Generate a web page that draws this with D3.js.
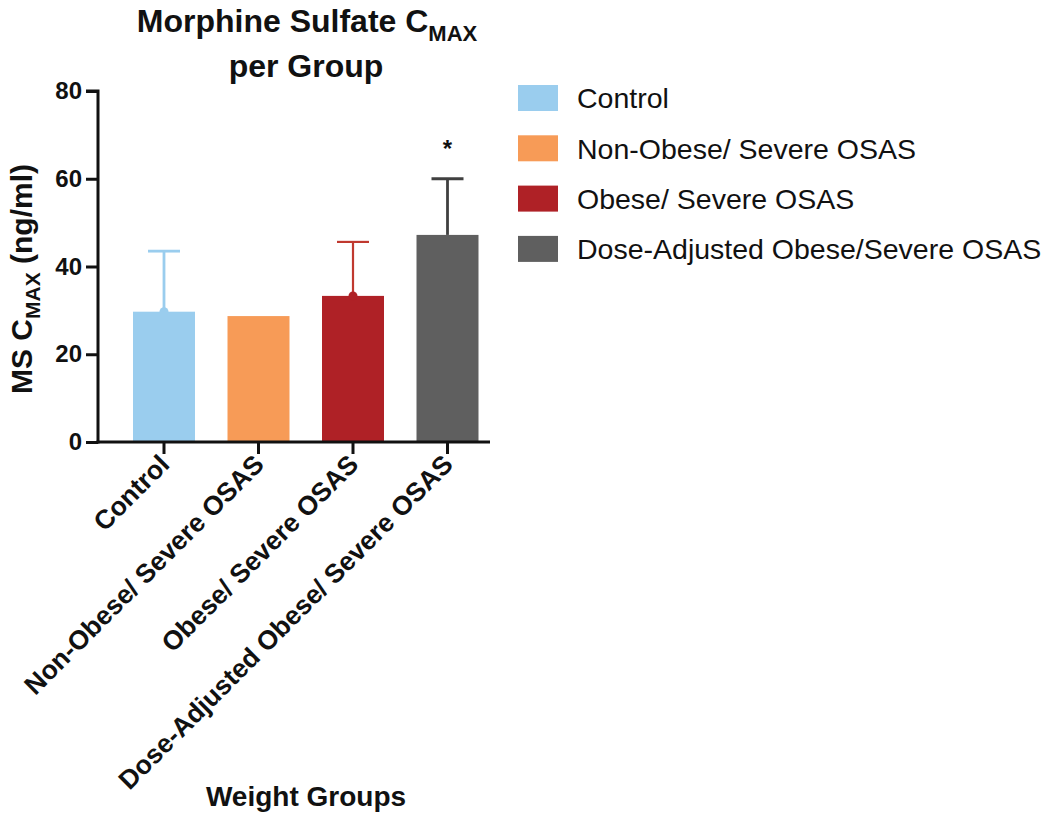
<!DOCTYPE html>
<html><head><meta charset="utf-8">
<script src="https://cdn.jsdelivr.net/npm/d3@7"></script>
<style>body{margin:0;background:#fff}svg{display:block}text{font-family:"Liberation Sans",Arial,sans-serif;fill:#111}</style>
</head><body><svg id="c" width="1050" height="821"></svg>
<script>
const categories = ["Control","Non-Obese/ Severe OSAS","Obese/ Severe OSAS","Dose-Adjusted Obese/ Severe OSAS"];
const legendLabels = ["Control","Non-Obese/ Severe OSAS","Obese/ Severe OSAS","Dose-Adjusted Obese/Severe OSAS"];
const means = [29.7, 28.7, 33.3, 47.2];
const errTop = [43.5, null, 45.6, 60.0];
const significance = ["", "", "", "*"];
const yTicks = [0, 20, 40, 60, 80];
const colors = ["#9ACDEE", "#F79B57", "#AF2126", "#5F5F5F"];
const errColors = ["#9ACDEE", "#F79B57", "#C0392F", "#404040"];
const showBump = [true, false, true, false];

const svg = d3.select("#c");
const y = d3.scaleLinear().domain([0, 80]).range([442, 91]);
const x = d3.scaleBand().domain(categories).range([116.75, 494.75]).paddingInner(0.344).paddingOuter(0.172);
const axisX0 = 98, axisX1 = 490;

// bars
svg.selectAll("rect.bar").data(categories).join("rect")
  .attr("x", d => x(d)).attr("width", x.bandwidth())
  .attr("y", (d,i) => y(means[i])).attr("height", (d,i) => y(0) - y(means[i]))
  .attr("fill", (d,i) => colors[i]);

// error bars
categories.forEach((d,i) => {
  if (errTop[i] == null) return;
  const cx = x(d) + x.bandwidth()/2;
  const g = svg.append("g").attr("stroke", errColors[i]).attr("stroke-width", i===2 ? 2.2 : 2.8);
  g.append("line").attr("x1", cx).attr("x2", cx).attr("y1", y(means[i])).attr("y2", y(errTop[i]));
  g.append("line").attr("x1", cx-16).attr("x2", cx+16).attr("y1", y(errTop[i])).attr("y2", y(errTop[i]));
  if (showBump[i]) svg.append("circle").attr("cx", cx).attr("cy", y(means[i])).attr("r", 4.5).attr("fill", colors[i]);
  if (significance[i]) svg.append("text").attr("x", cx).attr("y", y(errTop[i]) - 22)
    .attr("text-anchor","middle").attr("font-size", 24).attr("font-weight","bold").text(significance[i]);
});

// y axis
const yAxis = svg.append("g").attr("transform", `translate(${axisX0},0)`)
  .call(d3.axisLeft(y).tickValues(yTicks).tickSize(12).tickPadding(4));
yAxis.select(".domain").attr("stroke","#111").attr("stroke-width",3).attr("d", `M-12,${y(80)}H0V${y(0)+1.5}`);
yAxis.selectAll(".tick line").attr("stroke","#111").attr("stroke-width",3);
yAxis.selectAll(".tick text").attr("font-size",24).attr("font-weight","bold").attr("fill","#111")
  .style("font-family","'Liberation Sans',Arial,sans-serif");

// x axis
const xAxis = svg.append("g").attr("transform", `translate(0,${y(0)})`)
  .call(d3.axisBottom(x).tickSize(12).tickSizeOuter(0));
xAxis.select(".domain").attr("stroke","#111").attr("stroke-width",3).attr("d", `M${axisX0-1.5},0H${axisX1}`);
xAxis.selectAll(".tick line").attr("stroke","#111").attr("stroke-width",3);
xAxis.selectAll(".tick text").attr("font-size",26.5).attr("font-weight","bold").attr("fill","#111")
  .style("font-family","'Liberation Sans',Arial,sans-serif")
  .attr("text-anchor","end").attr("dy",0).attr("y",0)
  .attr("transform","translate(7,24) rotate(-45)");

// title
const title = svg.append("text").attr("x", 307).attr("y", 32).attr("text-anchor","middle")
  .attr("font-size", 32).attr("font-weight","bold");
title.append("tspan").text("Morphine Sulfate C");
title.append("tspan").attr("font-size",22).attr("dy",9).text("MAX");
svg.append("text").attr("x", 306).attr("y", 77).attr("text-anchor","middle")
  .attr("font-size", 32).attr("font-weight","bold").text("per Group");

// y label
const yl = svg.append("text").attr("transform","translate(32,279) rotate(-90)").attr("text-anchor","middle")
  .attr("font-size",30).attr("font-weight","bold");
yl.append("tspan").text("MS C");
yl.append("tspan").attr("font-size",21).attr("dy",8).text("MAX");
yl.append("tspan").attr("dy",-8).text(" (ng/ml)");

// x label
svg.append("text").attr("x",306).attr("y",806).attr("text-anchor","middle")
  .attr("font-size",28).attr("font-weight","bold").text("Weight Groups");

// legend
const lg = svg.append("g");
legendLabels.forEach((l,i) => {
  const yy = 85 + i*50.3;
  lg.append("rect").attr("x",518).attr("y",yy).attr("width",40).attr("height",26).attr("fill",colors[i]);
  lg.append("text").attr("x",577).attr("y",yy+13).attr("dy","0.36em").attr("font-size",28.5).text(l);
});
</script></body></html>
